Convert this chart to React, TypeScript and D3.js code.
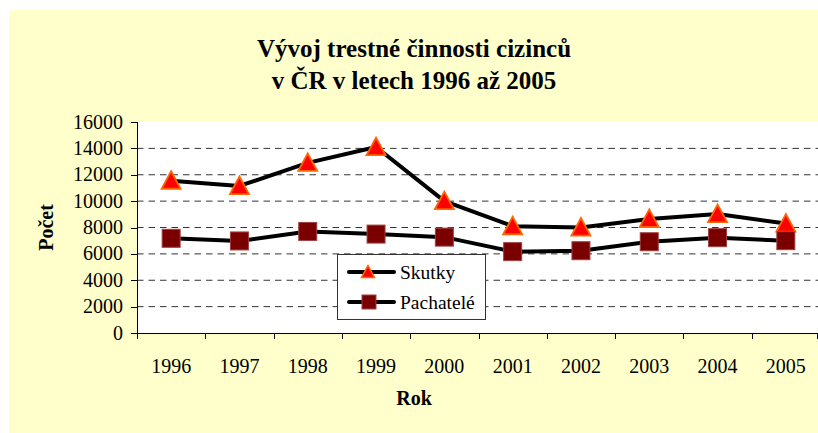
import React from "react";
import * as d3 from "d3";

const years = ["1996", "1997", "1998", "1999", "2000", "2001", "2002", "2003", "2004", "2005"];
const skutky = [11550, 11150, 12900, 14100, 10000, 8100, 8000, 8650, 9020, 8300];
const pachatele = [7180, 6980, 7700, 7500, 7270, 6170, 6240, 6920, 7230, 7000];
const yTicks = [0, 2000, 4000, 6000, 8000, 10000, 12000, 14000, 16000];
const gridTicks = [2000, 4000, 6000, 8000, 10000, 12000, 14000];
const titleLines = ["Vývoj trestné činnosti cizinců", "v ČR v letech 1996 až 2005"];
const seriesNames = ["Skutky", "Pachatelé"];

const W = 818;
const H = 433;
const plot = { left: 137, right: 820, top: 122, bottom: 333 };
const FONT = "'Liberation Serif', 'Times New Roman', serif";

export default function App() {
  const x = d3.scaleBand<string>().domain(years).range([plot.left, plot.right]).padding(0);
  const y = d3.scaleLinear().domain([0, 16000]).range([plot.bottom, plot.top]);
  const cx = (i: number) => (x(years[i]) as number) + x.bandwidth() / 2;
  const line = d3
    .line<number>()
    .x((_, i) => cx(i))
    .y((d) => y(d));

  const tri = (px: number, py: number, s = 9.5) =>
    `M${px},${py - s} L${px + s},${py + s * 0.85} L${px - s},${py + s * 0.85} Z`;

  const Tri = ({ px, py }: { px: number; py: number }) => (
    <path d={tri(px, py)} fill="#FF0000" stroke="#FF6600" strokeWidth={1.8} strokeLinejoin="miter" />
  );
  const Sq = ({ px, py }: { px: number; py: number }) => (
    <rect x={px - 9} y={py - 9} width={18} height={18} fill="#7A0000" stroke="#A04040" strokeWidth={1} />
  );

  const legend = { x: 337, y: 254, w: 148, h: 65 };

  return (
    <svg
      width={W}
      height={H}
      style={{ position: "absolute", left: 0, top: 0, background: "#fff" }}
      fontFamily={FONT}
    >
      <rect x={9} y={10} width={W - 9} height={H - 10} fill="#FFFFCC" />
      <rect x={plot.left} y={plot.top} width={plot.right - plot.left} height={plot.bottom - plot.top} fill="#fff" />

      {/* title */}
      {titleLines.map((t, i) => (
        <text key={i} x={414} y={57 + i * 32} textAnchor="middle" fontSize={25} fontWeight="bold" fill="#000">
          {t}
        </text>
      ))}

      {/* grid */}
      {gridTicks.map((v) => (
        <line
          key={v}
          x1={plot.left}
          x2={plot.right}
          y1={y(v)}
          y2={y(v)}
          stroke="#333"
          strokeWidth={1}
          strokeDasharray="6.5,5"
        />
      ))}

      {/* y axis */}
      <line x1={plot.left + 0.5} x2={plot.left + 0.5} y1={plot.top} y2={plot.bottom} stroke="#000" />
      {yTicks.map((v) => (
        <g key={v}>
          <line x1={plot.left - 6} x2={plot.left} y1={Math.round(y(v)) + 0.5} y2={Math.round(y(v)) + 0.5} stroke="#000" />
          <text x={123} y={y(v) + 6.5} textAnchor="end" fontSize={20} fill="#000">
            {v}
          </text>
        </g>
      ))}

      {/* x axis */}
      <line x1={plot.left} x2={plot.right} y1={plot.bottom + 0.5} y2={plot.bottom + 0.5} stroke="#000" />
      {years.map((yr, i) => (
        <g key={yr}>
          <line
            x1={Math.round(x(yr) as number) + 0.5}
            x2={Math.round(x(yr) as number) + 0.5}
            y1={plot.bottom}
            y2={plot.bottom + 6}
            stroke="#000"
          />
          <text x={cx(i)} y={373} textAnchor="middle" fontSize={20} fill="#000">
            {yr}
          </text>
        </g>
      ))}
      <line x1={plot.right - 2.5} x2={plot.right - 2.5} y1={plot.bottom} y2={plot.bottom + 6} stroke="#000" />

      {/* axis titles */}
      <text x={414} y={405} textAnchor="middle" fontSize={20} fontWeight="bold" fill="#000">
        Rok
      </text>
      <text
        transform={`translate(53,${(plot.top + plot.bottom) / 2}) rotate(-90)`}
        textAnchor="middle"
        fontSize={20}
        fontWeight="bold"
        fill="#000"
      >
        Počet
      </text>

      {/* series lines */}
      <path d={line(skutky) || ""} fill="none" stroke="#000" strokeWidth={4} strokeLinejoin="round" />
      <path d={line(pachatele) || ""} fill="none" stroke="#000" strokeWidth={4} strokeLinejoin="round" />
      {skutky.map((v, i) => (
        <Tri key={"t" + i} px={cx(i)} py={y(v)} />
      ))}
      {pachatele.map((v, i) => (
        <Sq key={"s" + i} px={cx(i)} py={y(v)} />
      ))}

      {/* legend */}
      <rect x={legend.x + 0.5} y={legend.y + 0.5} width={legend.w} height={legend.h} fill="#fff" stroke="#333" strokeWidth={1} />
      {seriesNames.map((n, i) => {
        const ly = legend.y + 18 + i * 30;
        return (
          <g key={n}>
            <line x1={legend.x + 12} x2={legend.x + 57} y1={ly} y2={ly} stroke="#000" strokeWidth={4} strokeLinecap="round" />
            {i === 0 ? (
              <path d={tri(legend.x + 31, ly, 6.5)} fill="#FF0000" stroke="#FF6600" strokeWidth={1.5} />
            ) : (
              <rect x={legend.x + 25} y={ly - 7} width={14} height={14} fill="#7A0000" stroke="#A04040" />
            )}
            <text x={legend.x + 63} y={ly + 6.5} fontSize={19.5} fill="#000">
              {n}
            </text>
          </g>
        );
      })}
    </svg>
  );
}
